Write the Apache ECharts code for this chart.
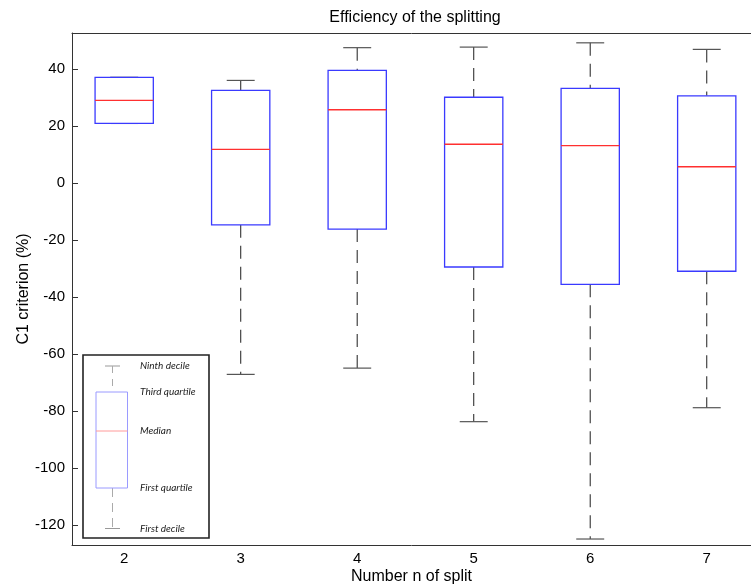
<!DOCTYPE html>
<html>
<head>
<meta charset="utf-8">
<script src="https://cdn.jsdelivr.net/npm/echarts@6/dist/echarts.min.js"></script>
<style>
html,body{margin:0;padding:0;background:#fff;}
#chart{width:751px;height:585px;}
</style>
</head>
<body>
<div id="chart"></div>
<script>
// ---- data ----
const categories    = [2, 3, 4, 5, 6, 7];
const firstDecile   = [21.0, -67.1, -64.9, -83.7, -124.9, -78.8];
const firstQuartile = [21.0, -14.6, -16.1, -29.4, -35.5, -30.9];
const medians       = [29.1, 11.9, 25.8, 13.7, 13.2, 5.8];
const thirdQuartile = [37.2, 32.6, 39.6, 30.2, 33.3, 30.7];
const ninthDecile   = [37.2, 36.1, 47.6, 47.8, 49.3, 47.0];
const yTicks = [-120, -100, -80, -60, -40, -20, 0, 20, 40];
const legendLabels = ['Ninth decile', 'Third quartile', 'Median', 'First quartile', 'First decile'];

const FONT = 'Liberation Sans, Arial, sans-serif';

const boxData = categories.map((c, i) => [c, firstDecile[i], firstQuartile[i], medians[i], thirdQuartile[i], ninthDecile[i]]);

const chart = echarts.init(document.getElementById('chart'), null, {renderer: 'canvas'});

function renderBox(params, api) {
  const x = api.value(0);
  const pD1 = api.coord([x, api.value(1)]);
  const pQ1 = api.coord([x, api.value(2)]);
  const pM  = api.coord([x, api.value(3)]);
  const pQ3 = api.coord([x, api.value(4)]);
  const pD9 = api.coord([x, api.value(5)]);
  const halfBox = api.size([0.25, 0])[0];
  const halfCap = api.size([0.12, 0])[0];
  const cx = pM[0];
  const whiskerStyle = {stroke: '#333', lineWidth: 1.1, lineDash: [13, 8]};
  const capStyle = {stroke: '#555', lineWidth: 1.2};
  return {
    type: 'group',
    children: [
      {type: 'line', shape: {x1: cx, y1: pD9[1], x2: cx, y2: pQ3[1]}, style: whiskerStyle},
      {type: 'line', shape: {x1: cx, y1: pQ1[1], x2: cx, y2: pD1[1]}, style: whiskerStyle},
      {type: 'line', shape: {x1: cx - halfCap, y1: pD9[1], x2: cx + halfCap, y2: pD9[1]}, style: capStyle},
      {type: 'line', shape: {x1: cx - halfCap, y1: pD1[1], x2: cx + halfCap, y2: pD1[1]}, style: capStyle},
      {type: 'rect', shape: {x: cx - halfBox, y: pQ3[1], width: halfBox * 2, height: pQ1[1] - pQ3[1]},
        style: {fill: '#fff', stroke: '#3a3aff', lineWidth: 1.3}},
      {type: 'line', shape: {x1: cx - halfBox, y1: pM[1], x2: cx + halfBox, y2: pM[1]},
        style: {stroke: '#ff3030', lineWidth: 1.3}, z2: 10}
    ]
  };
}

// legend box (explanatory drawing)
const LX = 83, LY = 355, LW = 126, LH = 183;
const lcx = 112.5;
const legY = [366, 392, 431, 488, 528.5];
const legendGraphic = {
  type: 'group',
  z: 100,
  children: [
    {type: 'rect', shape: {x: LX, y: LY, width: LW, height: LH}, style: {fill: '#fff', stroke: '#222', lineWidth: 1.6}},
    {type: 'line', shape: {x1: lcx - 7.5, y1: legY[0], x2: lcx + 7.5, y2: legY[0]}, style: {stroke: '#999', lineWidth: 1}},
    {type: 'line', shape: {x1: lcx, y1: legY[0], x2: lcx, y2: legY[1]}, style: {stroke: '#aaa', lineWidth: 1, lineDash: [7, 6]}},
    {type: 'line', shape: {x1: lcx, y1: legY[3], x2: lcx, y2: legY[4]}, style: {stroke: '#aaa', lineWidth: 1, lineDash: [9, 6]}},
    {type: 'line', shape: {x1: lcx - 7.5, y1: legY[4], x2: lcx + 7.5, y2: legY[4]}, style: {stroke: '#999', lineWidth: 1}},
    {type: 'rect', shape: {x: 96, y: legY[1], width: 31.5, height: legY[3] - legY[1]}, style: {fill: '#fff', stroke: '#9a9aff', lineWidth: 1}},
    {type: 'line', shape: {x1: 96, y1: legY[2], x2: 127.5, y2: legY[2]}, style: {stroke: '#ff9a9a', lineWidth: 1}}
  ].concat(legendLabels.map((t, i) => ({
    type: 'text',
    style: {text: t, x: 140, y: legY[i], textVerticalAlign: 'middle', verticalAlign: 'middle',
      fill: '#222', font: 'italic 10px Lato, "Open Sans", sans-serif'}
  })))
};

const option = {
  backgroundColor: '#fff',
  animation: false,
  textStyle: {fontFamily: FONT},
  grid: {left: 72, right: 0, top: 33, bottom: 40, containLabel: false, outerBoundsMode: 'none'},
  graphic: [
    {type: 'text', z: 100, style: {text: 'Efficiency of the splitting', x: 415, y: 17.5, textAlign: 'center', align: 'center',
      verticalAlign: 'middle', textVerticalAlign: 'middle', fill: '#000', font: '16px "Liberation Sans", Arial, sans-serif'}},
    legendGraphic
  ],
  xAxis: [
    {
      type: 'value', position: 'bottom', min: 1.552, max: 7.38,
      name: 'Number n of split', nameLocation: 'middle', nameGap: 24, nameMoveOverlap: false,
      nameTextStyle: {fontSize: 16, color: '#000', fontFamily: FONT},
      axisLine: {show: true, onZero: false, lineStyle: {color: '#333', width: 1}},
      axisTick: {show: false},
      splitLine: {show: false},
      axisLabel: {customValues: categories, fontSize: 15, color: '#000', margin: 6, fontFamily: FONT}
    },
    {
      type: 'value', position: 'top', min: 1.552, max: 7.38,
      axisLine: {show: true, onZero: false, lineStyle: {color: '#333', width: 1}},
      axisTick: {show: false}, axisLabel: {show: false}, splitLine: {show: false}
    }
  ],
  yAxis: {
    type: 'value', min: -127, max: 52.75,
    name: 'C1 criterion (%)', nameLocation: 'middle', nameGap: 40, nameMoveOverlap: false,
    nameTextStyle: {fontSize: 16, color: '#000', fontFamily: FONT},
    axisLine: {show: true, onZero: false, lineStyle: {color: '#333', width: 1}},
    axisTick: {show: true, inside: true, length: 6, customValues: yTicks, lineStyle: {color: '#333'}},
    splitLine: {show: false},
    axisLabel: {customValues: yTicks, fontSize: 15, color: '#000', margin: 7, fontFamily: FONT}
  },
  series: [{
    type: 'custom',
    xAxisIndex: 0,
    clip: false,
    renderItem: renderBox,
    encode: {x: 0, y: [1, 2, 3, 4, 5]},
    data: boxData
  }]
};
chart.setOption(option);
</script>
</body>
</html>
